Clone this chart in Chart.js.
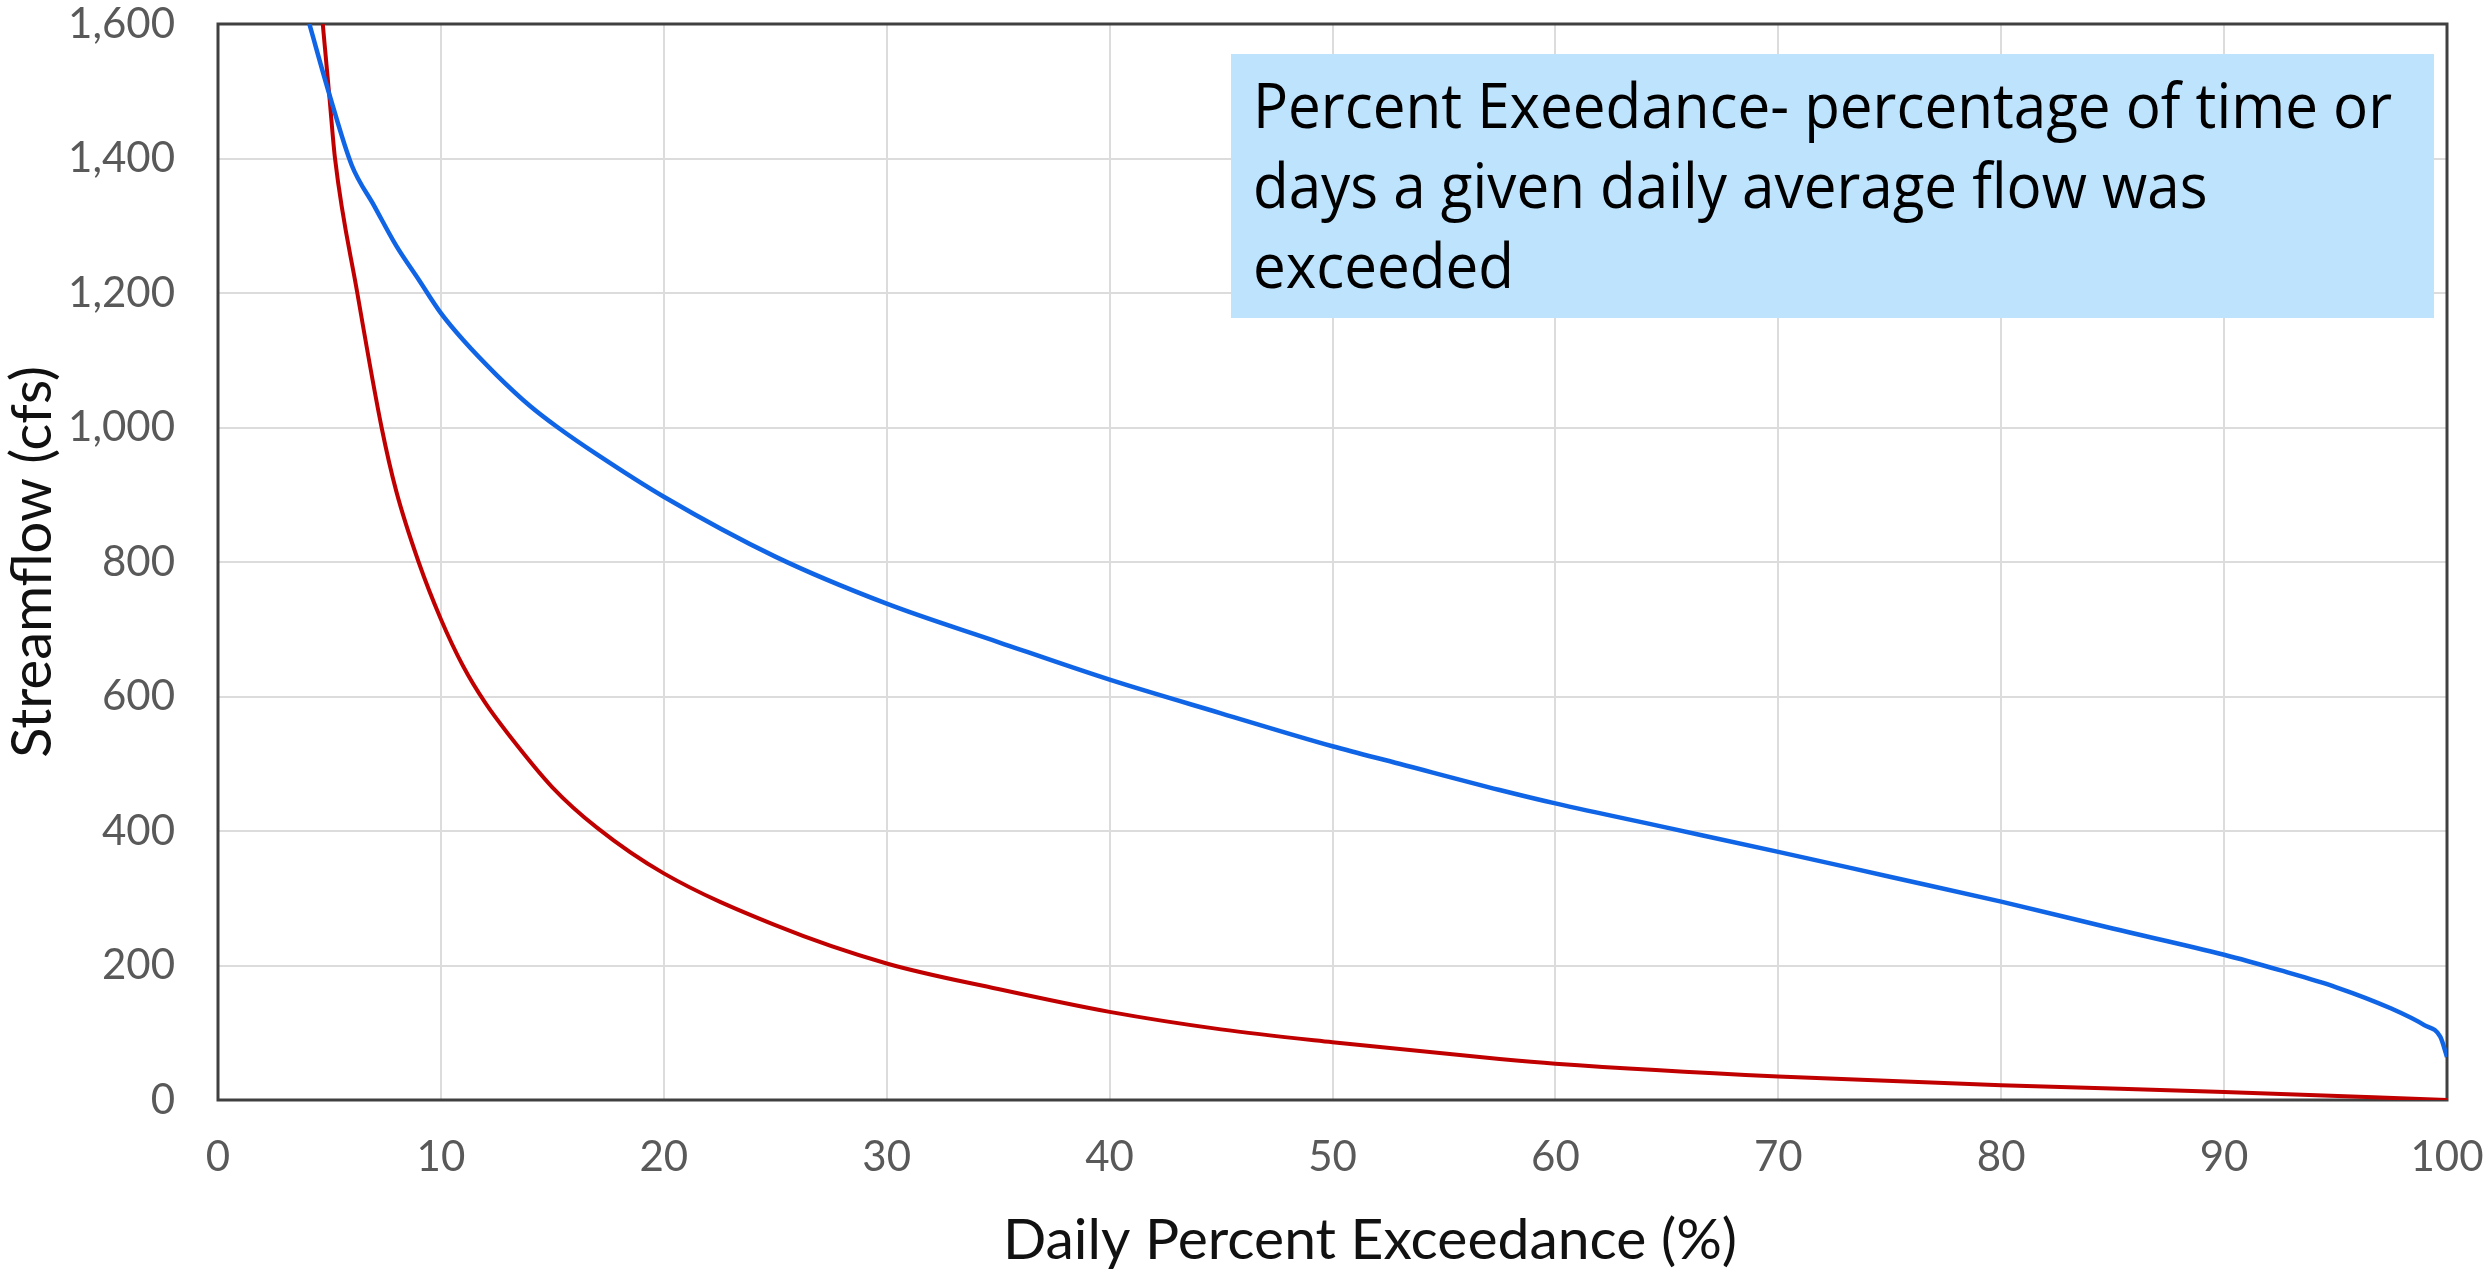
<!DOCTYPE html>
<html>
<head>
<meta charset="utf-8">
<title>Daily Percent Exceedance</title>
<script src="https://cdn.jsdelivr.net/npm/chart.js@4.4.1/dist/chart.umd.min.js"></script>
<style>
  html, body { margin: 0; padding: 0; background: #fff; }
  canvas { display: block; }
</style>
</head>
<body>
<canvas id="myChart" width="2489" height="1270"></canvas>
<script>
// Data
const blueExceed = [4.1, 5.0, 6.0, 7.0, 8.0, 9.0, 10, 11, 12.5, 14, 15.25, 17, 20, 25, 30, 35, 40, 45, 50, 53, 57.5, 60, 65, 70, 75, 80, 85, 90, 92.5, 95, 97.5, 99, 99.7, 100];
const blueFlow   = [1600, 1495, 1390, 1330, 1270, 1220, 1170, 1130, 1078, 1032, 1000, 960, 897, 808, 738, 681, 625, 575, 526, 500, 461, 441, 405, 369, 332, 295, 255, 216, 193, 168, 136, 111, 94, 64];

const redExceed = [4.7, 5.0, 5.25, 6.25, 7.34, 8, 9, 10, 11, 12, 13, 15, 17, 20, 25, 30, 35, 40, 45, 50, 57.5, 60, 70, 80, 90, 100];
const redFlow   = [1600, 1491, 1400, 1200, 1000, 905, 800, 715, 645, 590, 545, 465, 405, 337, 260, 203, 165, 131, 105, 86, 61, 54, 35, 22, 12, 0];

const xTicks = [0, 10, 20, 30, 40, 50, 60, 70, 80, 90, 100];
const yTicks = [0, 200, 400, 600, 800, 1000, 1200, 1400, 1600];

const xTitle = "Daily Percent Exceedance (%)";
const yTitle = "Streamflow (cfs)";
const noteLines = [
    "Percent Exeedance- percentage of time or",
    "days a given daily average flow was",
    "exceeded"
];

// Styles
const AXIS_FONT = "Lato";
const TICK_COLOR = "#595959";
const GRID_COLOR = "#dcdcdc";
const FRAME_COLOR = "#404040";
const X_TITLE = { centerX: 1370, middleY: 1241, font: "57px Lato", color: "#111" };
const NOTE_BOX = { left: 1231, top: 54, width: 1203, height: 264, fill: "#bde3fd" };
const NOTE_TEXT = { left: 1253, firstBaseline: 128, lineStep: 80, fitWidth: 1139, font: "62px 'Open Sans'" };

// Helpers
function toPoints(xs, ys) {
    return xs.map(function (x, i) { return { x: x, y: ys[i] }; });
}

// stop tick labels from pushing the plot area around
function fixScalePadding(s) {
    s.paddingTop = 0;
    s.paddingBottom = 0;
    s.paddingLeft = 0;
    s.paddingRight = 0;
}

// Plot frame, note box, x axis title
const frameAndNote = {
    id: "frameAndNote",
    beforeDatasetsDraw(chart) {
        const ctx = chart.ctx;
        const a = chart.chartArea;
        ctx.save();
        ctx.strokeStyle = FRAME_COLOR;
        ctx.lineWidth = 3;
        ctx.strokeRect(a.left, a.top, a.right - a.left, a.bottom - a.top);

        // x axis title
        ctx.font = X_TITLE.font;
        ctx.fillStyle = X_TITLE.color;
        ctx.textAlign = "center";
        ctx.textBaseline = "middle";
        ctx.fillText(xTitle, X_TITLE.centerX, X_TITLE.middleY);

        // note box
        ctx.fillStyle = NOTE_BOX.fill;
        ctx.fillRect(NOTE_BOX.left, NOTE_BOX.top, NOTE_BOX.width, NOTE_BOX.height);

        ctx.font = NOTE_TEXT.font;
        ctx.fillStyle = "#000";
        ctx.textBaseline = "alphabetic";
        ctx.textAlign = "left";
        const sx = NOTE_TEXT.fitWidth / ctx.measureText(noteLines[0]).width;
        ctx.translate(NOTE_TEXT.left, 0);
        ctx.scale(sx, 1);
        noteLines.forEach(function (line, i) {
            ctx.fillText(line, 0, NOTE_TEXT.firstBaseline + i * NOTE_TEXT.lineStep);
        });
        ctx.restore();
    }
};

const myChart = document.getElementById("myChart").getContext("2d");

new Chart(myChart, {
    type: "line",
    data: {
        datasets: [{
            label: "Blue",
            data: toPoints(blueExceed, blueFlow),
            borderColor: "rgb(16,100,230)",
            borderWidth: 4.5,
            pointRadius: 0,
            cubicInterpolationMode: "monotone"
        }, {
            label: "Red",
            data: toPoints(redExceed, redFlow),
            borderColor: "rgb(192,0,0)",
            borderWidth: 4,
            pointRadius: 0,
            cubicInterpolationMode: "monotone"
        }]
    },
    options: {
        responsive: false,
        animation: false,
        locale: "en-US",
        layout: { padding: { top: 24, right: 42, bottom: 0, left: 0 } },
        plugins: {
            legend: { display: false },
            tooltip: { enabled: false }
        },
        scales: {
            x: {
                type: "linear",
                min: 0,
                max: 100,
                afterBuildTicks: function (s) { s.ticks = xTicks.map(function (v) { return { value: v }; }); },
                afterFit: function (s) { s.height = 170; fixScalePadding(s); },
                grid: { color: GRID_COLOR, lineWidth: 2, drawTicks: false },
                border: { display: false },
                ticks: { color: TICK_COLOR, padding: 36, font: { family: AXIS_FONT, size: 42, lineHeight: 1 } },
                title: { display: false, text: xTitle }
            },
            y: {
                min: 0,
                max: 1600,
                afterBuildTicks: function (s) { s.ticks = yTicks.map(function (v) { return { value: v }; }); },
                afterFit: function (s) { s.width = 218; fixScalePadding(s); },
                grid: { color: GRID_COLOR, lineWidth: 2, drawTicks: false },
                border: { display: false },
                ticks: { color: TICK_COLOR, padding: 43, font: { family: AXIS_FONT, size: 42, lineHeight: 1 } },
                title: {
                    display: true,
                    text: yTitle,
                    color: "#111",
                    padding: { top: 5, bottom: 0 },
                    font: { family: AXIS_FONT, size: 56, lineHeight: 1 }
                }
            }
        }
    },
    plugins: [frameAndNote]
});
</script>
</body>
</html>
